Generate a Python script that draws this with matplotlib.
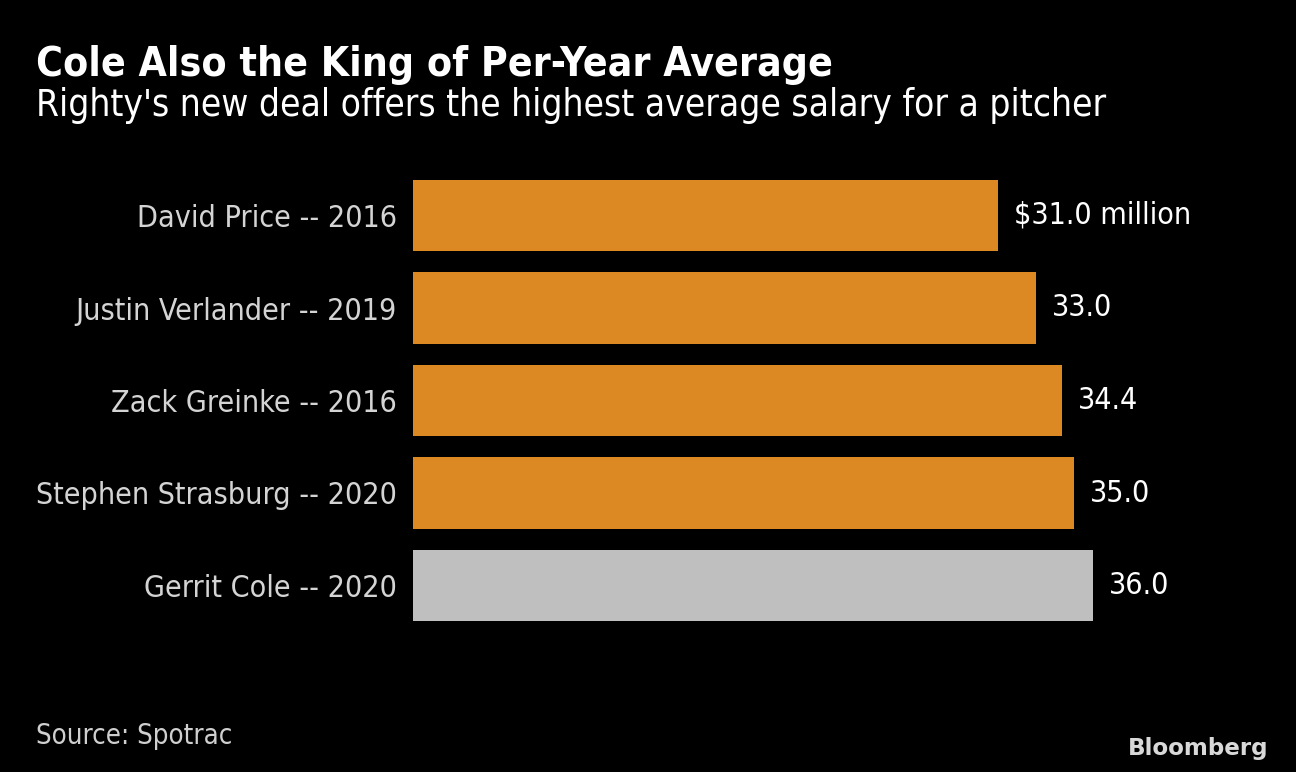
import matplotlib.pyplot as plt

# chart data
names = ['David Price -- 2016', 'Justin Verlander -- 2019', 'Zack Greinke -- 2016',
         'Stephen Strasburg -- 2020', 'Gerrit Cole -- 2020']
salaries = [31.0, 33.0, 34.4, 35.0, 36.0]
value_labels = ['$31.0 million', '33.0', '34.4', '35.0', '36.0']
highlight = 'Gerrit Cole -- 2020'

orange = '#dc8924'
grey = '#bfbfbf'
font = 'DejaVu Sans'

plt.rcParams['font.family'] = font

fig = plt.figure(figsize=(12.96, 7.72), dpi=100, facecolor='black')
ax = fig.add_axes([413 / 1296, 1 - 631.75 / 772, 755 / 1296, 462.5 / 772])
ax.set_facecolor('black')

colors = [grey if n == highlight else orange for n in names]
positions = list(range(len(names)))
ax.barh(positions, salaries, height=0.77, color=colors)
ax.set_xlim(0, 40)
ax.set_ylim(len(names) - 0.5, -0.5)

for pos, val, lab in zip(positions, salaries, value_labels):
    ax.text(val + 0.85, pos, lab, va='center', ha='left', color='white',
            fontsize=21.8, fontstretch='condensed')

ax.set_yticks(positions)
ax.set_yticklabels(names, fontsize=21.8, color='#d4d4d4', fontstretch='condensed')
ax.tick_params(axis='y', length=0, pad=11.5)
ax.set_xticks([])
for spine in ax.spines.values():
    spine.set_visible(False)

fig.text(36 / 1296, 1 - 76 / 772, 'Cole Also the King of Per-Year Average', color='white',
         fontsize=29.3, fontweight='bold', fontstretch='condensed', ha='left', va='baseline')
fig.text(36 / 1296, 1 - 116 / 772, "Righty's new deal offers the highest average salary for a pitcher",
         color='white', fontsize=26.6, fontstretch='condensed', ha='left', va='baseline')
fig.text(36 / 1296, 1 - 744 / 772, 'Source: Spotrac', color='#cfcfcf',
         fontsize=19.8, fontstretch='condensed', ha='left', va='baseline')
fig.text(1268 / 1296, 1 - 755 / 772, 'Bloomberg', color='#d8d8d8',
         fontsize=16.6, fontweight='bold', ha='right', va='baseline', family='Liberation Sans Narrow')

fig.savefig('out.png', dpi=100, facecolor='black')
